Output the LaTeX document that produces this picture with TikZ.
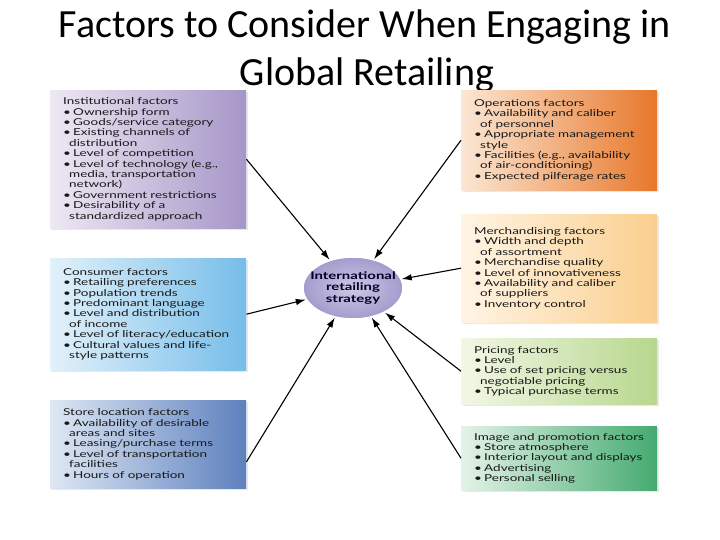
\documentclass[tikz,border=0pt]{standalone}
\usepackage{fontspec}
\setmainfont{Carlito}
\newfontfamily\boxfont[FakeStretch=1.42]{Lato}
\usepackage{tikz}
\usetikzlibrary{shadows}
\usetikzlibrary{calc, shapes, arrows.meta}

\definecolor{instL}{HTML}{EEE8F3}
\definecolor{instR}{HTML}{A696C8}
\definecolor{consL}{HTML}{E2F1FA}
\definecolor{consR}{HTML}{76BDE9}
\definecolor{locL}{HTML}{DEE8F4}
\definecolor{locR}{HTML}{5E80BE}
\definecolor{operL}{HTML}{FBE7D4}
\definecolor{operR}{HTML}{E8772A}
\definecolor{merchL}{HTML}{FFF4E4}
\definecolor{merchR}{HTML}{F9CF8E}
\definecolor{priceL}{HTML}{F2F7E6}
\definecolor{priceR}{HTML}{B7D78D}
\definecolor{promoL}{HTML}{E4F3E8}
\definecolor{promoR}{HTML}{44AA70}
\definecolor{hubIn}{HTML}{CFC8E6}
\definecolor{hubOut}{HTML}{A39BCC}

\newcommand{\fb}{\makebox[10pt][l]{\textbullet}}% bullet in front of an item
\newcommand{\fc}{\hspace*{6pt}}% second line of an item

\tikzset{
    factor/.style = {rectangle, anchor=north west, inner xsep=13pt, inner ysep=0pt, text width=170pt, align=left, text=black!90,
        font=\boxfont\fontsize{9.5}{10.4}\selectfont, drop shadow={opacity=0.18, shadow xshift=1.5pt, shadow yshift=-1.5pt}}, % the coloured boxes of factors
    hub/.style = {ellipse, minimum width=100pt, minimum height=62pt, inner xsep=-16pt, inner ysep=0pt, draw=white, line width=1.5pt, align=center,
        shade, inner color=hubIn, outer color=hubOut, text=black!85!blue, font=\boxfont\bfseries\fontsize{10.5}{11.5}\selectfont},
    arr/.style = {-{Latex[length=10pt, width=6.5pt]}, line width=1.1pt},
    title/.style = {anchor=base, font=\fontsize{40}{48}\selectfont}
}

\begin{document}
\begin{tikzpicture}[x=1pt, y=-1pt]
    \useasboundingbox[fill=white] (0,0) rectangle (720,540);

    \node[title] (title1) at (365,38) {Factors to Consider When Engaging in};
    \node[title] (title2) at (367,86) {Global Retailing};

    % left column
    \node[factor, minimum height=138pt, left color=instL, right color=instR] (inst) at (50,90)
        {Institutional factors\\ \fb Ownership form\\ \fb Goods/service category\\ \fb Existing channels of\\ \fc distribution\\
         \fb Level of competition\\ \fb Level of technology (e.g.,\\ \fc media, transportation\\ \fc network)\\
         \fb Government restrictions\\ \fb Desirability of a\\ \fc standardized approach};
    \node[factor, minimum height=112pt, left color=consL, right color=consR] (cons) at (50,258)
        {Consumer factors\\ \fb Retailing preferences\\ \fb Population trends\\ \fb Predominant language\\ \fb Level and distribution\\
         \fc of income\\ \fb Level of literacy/education\\ \fb Cultural values and life-\\ \fc style patterns};
    \node[factor, minimum height=88pt, left color=locL, right color=locR] (loc) at (50,400)
        {Store location factors\\ \fb Availability of desirable\\ \fc areas and sites\\ \fb Leasing/purchase terms\\
         \fb Level of transportation\\ \fc facilities\\ \fb Hours of operation};

    % right column
    \node[factor, minimum height=100pt, left color=operL, right color=operR] (oper) at (461,90)
        {Operations factors\\ \fb Availability and caliber\\ \fc of personnel\\ \fb Appropriate management\\ \fc style\\
         \fb Facilities (e.g., availability\\ \fc of air-conditioning)\\ \fb Expected pilferage rates};
    \node[factor, minimum height=108pt, left color=merchL, right color=merchR] (merch) at (461,214)
        {Merchandising factors\\ \fb Width and depth\\ \fc of assortment\\ \fb Merchandise quality\\ \fb Level of innovativeness\\
         \fb Availability and caliber\\ \fc of suppliers\\ \fb Inventory control};
    \node[factor, minimum height=66pt, left color=priceL, right color=priceR] (price) at (461,338)
        {Pricing factors\\ \fb Level\\ \fb Use of set pricing versus\\ \fc negotiable pricing\\ \fb Typical purchase terms};
    \node[factor, minimum height=64pt, left color=promoL, right color=promoR] (promo) at (461,426)
        {Image and promotion factors\\ \fb Store atmosphere\\ \fb Interior layout and displays\\ \fb Advertising\\ \fb Personal selling};

    \node[hub] (strat) at (353,288) {International\\ retailing\\ strategy};

    \path[arr] (inst.east) edge (strat);
    \path[arr] (cons.east) edge (strat);
    \path[arr] ($(loc.east)!0.4!(loc.south east)$) edge (strat);
    \path[arr] (oper.west) edge (strat);
    \path[arr] (merch.west) edge (strat);
    \path[arr] (price.west) edge (strat);
    \path[arr] (promo.west) edge (strat);
\end{tikzpicture}
\end{document}
